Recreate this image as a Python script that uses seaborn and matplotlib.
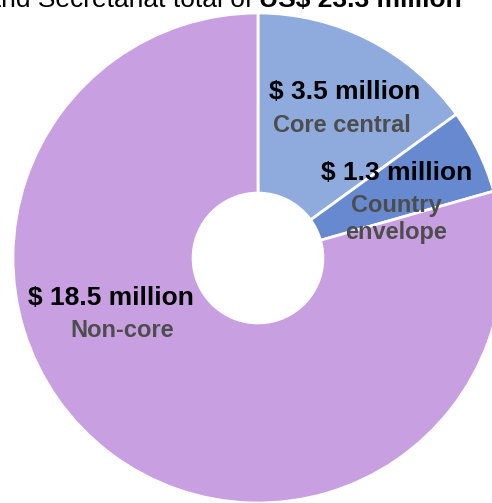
import matplotlib
matplotlib.use("Agg")
import matplotlib.pyplot as plt
import seaborn as sns

# data
categories = ["Core central", "Country\nenvelope", "Non-core"]
values = [3.5, 1.3, 18.5]   # US$ million
value_labels = ["$ 3.5 million", "$ 1.3 million", "$ 18.5 million"]
colors = ["#8FAADC", "#6689CF", "#C8A0E2"]

sns.set_theme(style="white")
plt.rcParams['font.family'] = ['Liberation Sans', 'DejaVu Sans']

fig = plt.figure(figsize=(4.92, 5.03), dpi=100)
ax = fig.add_axes([0, 0, 1, 1])

ax.pie(values, colors=sns.color_palette(colors), startangle=90, counterclock=False,
       radius=1.0, wedgeprops=dict(width=1 - 0.265, edgecolor="white", linewidth=2))

# pie centre sits at pixel (258, 258), radius 245 px, chart cropped right/bottom
ax.set_xlim(-258 / 245, (492 - 258) / 245)
ax.set_ylim((258 - 503) / 245, 258 / 245)
ax.set_aspect("equal", adjustable="box")
ax.axis("off")

# label positions (data coords)
val_pos = [(0.355, 0.678), (0.567, 0.347), (-0.60, -0.163)]
cat_pos = [(0.343, 0.539), (0.563, 0.158), (-0.555, -0.294)]
for v, c, vp, cp in zip(value_labels, categories, val_pos, cat_pos):
    ax.text(vp[0], vp[1], v, ha="center", va="center", fontsize=19,
            fontweight="bold", color="black")
    ax.text(cp[0], cp[1], c, ha="center", va="center", fontsize=17,
            fontweight="bold", color="#4D4D4D", linespacing=1.2)

# cropped title at the top
bold = fig.text(0.939, 0.986, "US$ 23.3 million", ha="right", va="baseline",
                fontsize=19, fontweight="bold", color="black")
fig.canvas.draw()
bb = bold.get_window_extent()
x_left = bb.x0 / fig.bbox.width
fig.text(x_left, 0.986, "Core and Secretariat total of ", ha="right", va="baseline",
         fontsize=19, color="black")

fig.savefig("out.png", dpi=100)
